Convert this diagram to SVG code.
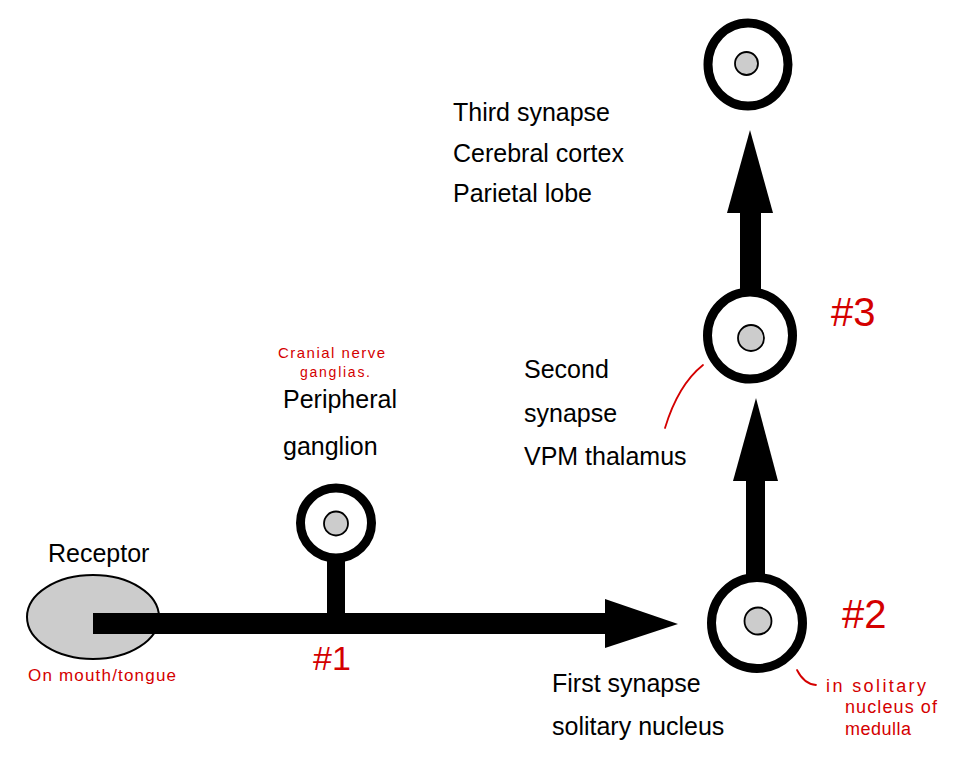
<svg xmlns="http://www.w3.org/2000/svg" width="980" height="780" viewBox="0 0 980 780">
<style>
.ring{fill:#fff;stroke:#000;stroke-width:9}
.core{fill:#ccc;stroke:#000;stroke-width:1.8}
.lbl{font-family:"Liberation Sans",Arial,sans-serif;font-size:25px;fill:#000}
.note{font-family:"Liberation Sans",Arial,sans-serif;fill:#d40000}
.nline{fill:none;stroke:#d40000;stroke-width:1.8;stroke-linecap:round}
</style>
<rect width="980" height="780" fill="#fff"/>
<g id="receptor">
<ellipse cx="93" cy="617" rx="66" ry="42" fill="#ccc" stroke="#000" stroke-width="2"/>
<text class="lbl" x="48" y="562">Receptor</text>
</g>
<g id="connectors">
<rect x="93" y="613" width="513" height="21" fill="#000"/>
<polygon points="605,599 678,624 605,648" fill="#000"/>
<rect x="327" y="555" width="18" height="60" fill="#000"/>
<rect x="746" y="478" width="19" height="98" fill="#000"/>
<polygon points="733,481 756,398 778,481" fill="#000"/>
<rect x="741" y="370" width="18" height="10" fill="#000"/>
<rect x="740" y="210" width="21" height="82" fill="#000"/>
<polygon points="727,213 750,130 773,213" fill="#000"/>
</g>
<g id="peripheral-ganglion">
<ellipse class="ring" cx="336" cy="523" rx="35.5" ry="35"/>
<circle class="core" cx="336" cy="523.5" r="12"/>
<text class="lbl" x="283" y="408">Peripheral</text>
<text class="lbl" x="283" y="455">ganglion</text>
</g>
<g id="first-synapse">
<circle class="ring" cx="757" cy="623" r="45.5"/>
<circle class="core" cx="758" cy="621" r="13.5"/>
<text class="lbl" x="552" y="692">First synapse</text>
<text class="lbl" x="552" y="735">solitary nucleus</text>
</g>
<g id="second-synapse">
<ellipse class="ring" cx="750" cy="335.5" rx="42.5" ry="43.5"/>
<circle class="core" cx="751" cy="338" r="13"/>
<text class="lbl" x="524" y="378">Second</text>
<text class="lbl" x="524" y="422">synapse</text>
<text class="lbl" x="524" y="465">VPM thalamus</text>
</g>
<g id="third-synapse">
<ellipse class="ring" cx="748" cy="64.5" rx="40" ry="41.5"/>
<circle class="core" cx="746.5" cy="63.5" r="11.5"/>
<text class="lbl" x="453" y="121">Third synapse</text>
<text class="lbl" x="453" y="162">Cerebral cortex</text>
<text class="lbl" x="453" y="202">Parietal lobe</text>
</g>
<g id="annotations">
<text class="note" x="278" y="358" font-size="15" textLength="107" lengthAdjust="spacing">Cranial nerve</text>
<text class="note" x="300" y="377" font-size="14" textLength="70" lengthAdjust="spacing">ganglias.</text>
<text class="note" x="28" y="681" font-size="17" textLength="148" lengthAdjust="spacing">On mouth/tongue</text>
<text class="note" x="313" y="670" font-size="34">#1</text>
<text class="note" x="842" y="628" font-size="40">#2</text>
<text class="note" x="831" y="326" font-size="40">#3</text>
<text class="note" x="826" y="692" font-size="18" textLength="100" lengthAdjust="spacing">in solitary</text>
<text class="note" x="845" y="713" font-size="18" textLength="92" lengthAdjust="spacing">nucleus of</text>
<text class="note" x="845" y="735" font-size="18" textLength="66" lengthAdjust="spacing">medulla</text>
<path class="nline" d="M703,365 Q678,385 665,428"/>
<path class="nline" d="M797,670 Q804,684 816,685"/>
</g>
</svg>
